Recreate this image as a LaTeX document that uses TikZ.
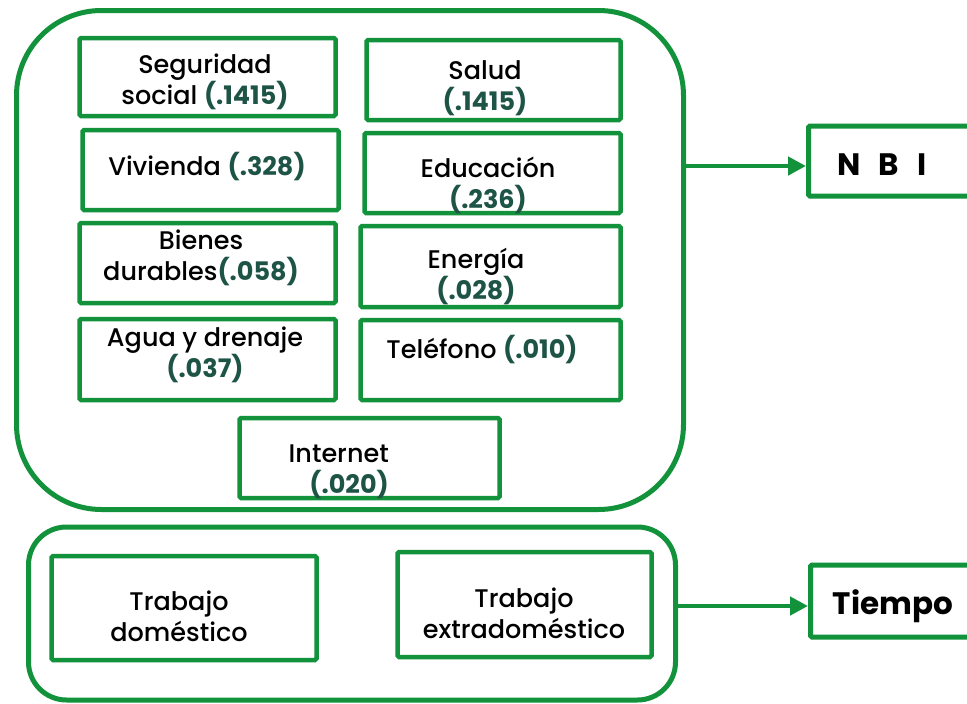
\documentclass[tikz,border=0pt]{standalone}
\usepackage{fontspec}
\setmainfont{Poppins}[UprightFont={* Medium},BoldFont={* Bold}]
\usetikzlibrary{arrows.meta}
\definecolor{grn}{HTML}{13923C}
\definecolor{numc}{HTML}{1D5446}
\newcommand{\wt}[1]{{\bfseries\color{numc}#1}}
\begin{document}
\begin{tikzpicture}[x=1pt,y=-1pt,
  container/.style={draw=grn,line width=5pt,rectangle,inner sep=0pt},
  itembox/.style={draw=grn,line width=4.5pt,rectangle,rounded corners=1.5pt,inner sep=0pt},
  outbox/.style={draw=grn,line width=5pt,rectangle,rounded corners=1.5pt,inner sep=0pt,anchor=west,minimum width=200pt},
  txt/.style={align=center,inner sep=0pt,font=\fontsize{25.5}{31}\selectfont},
  big/.style={inner sep=0pt,font=\fontsize{31}{36}\selectfont\bfseries},
  arr/.style={draw=grn,line width=4.5pt,-{Triangle[length=18pt,width=18pt]}}]
\useasboundingbox (0,0) rectangle (967,704);
\clip (0,0) rectangle (967,704);
\fill[white] (0,0) rectangle (967,704);
% containers
\node[container,rounded corners=85pt,minimum width=667pt,minimum height=499pt] (nbigrp) at (350,260) {};
\node[container,rounded corners=38pt,minimum width=647pt,minimum height=173pt] (tgrp) at (352,613.5) {};
% item boxes
\node[itembox,minimum width=256pt,minimum height=78pt] (seg) at (207.5,77) {};
\node[itembox,minimum width=256pt,minimum height=80pt] (viv) at (210.5,170) {};
\node[itembox,minimum width=254pt,minimum height=80pt] (sal) at (493.5,80) {};
\node[itembox,minimum width=256pt,minimum height=80pt] (edu) at (492.5,173) {};
\node[itembox,minimum width=256pt,minimum height=80pt] (bie) at (207.5,263) {};
\node[itembox,minimum width=260pt,minimum height=81pt] (ene) at (490.5,266.5) {};
\node[itembox,minimum width=256pt,minimum height=81pt] (agu) at (207.5,359.5) {};
\node[itembox,minimum width=260pt,minimum height=80pt] (tel) at (490.5,360) {};
\node[itembox,minimum width=260pt,minimum height=80pt] (int) at (369.5,458) {};
\node[itembox,minimum width=265pt,minimum height=104pt] (tdom) at (184,608) {};
\node[itembox,minimum width=254pt,minimum height=105pt] (text) at (524.5,604.5) {};
% texts
\node[txt] (tseg) at (205,82) {Seguridad\\social \wt{(.1415)}};
\node[txt] (tsal) at (485,88) {Salud\\\wt{(.1415)}};
\node[txt] (tviv) at (207,167) {Vivienda \wt{(.328)}};
\node[txt] (tedu) at (488,185) {Educación\\\wt{(.236)}};
\node[txt] (tbie) at (201,258) {Bienes\\durables\wt{(.058)}};
\node[txt] (tene) at (476,277) {Energía\\\wt{(.028)}};
\node[txt] (tagu) at (205,355) {Agua y drenaje\\\wt{(.037)}};
\node[txt] (ttel) at (482,350) {Teléfono \wt{(.010)}};
\node[txt,align=right,anchor=east] (tint) at (389,472) {Internet\\\wt{(.020)}};
\node[txt] (ttdom) at (179,616) {Trabajo\\doméstico};
\node[txt] (ttext) at (524,613) {Trabajo\\extradoméstico};
% outputs
\node[outbox,minimum height=70pt] (nbi) at (806,161) {};
\node[outbox,minimum height=72pt] (tiem) at (808,601) {};
\node[big] (tnbi) at (882,165) {N\hspace{18pt}B\hspace{18pt}I};
\node[big] (ttiem) at (893,606) {Tiempo};
% arrows
\draw[arr] ([yshift=-5pt]nbi.west -| nbigrp.east) -- ([yshift=-5pt]nbi.west);
\draw[arr] ([yshift=-5pt]tiem.west -| tgrp.east) -- ([yshift=-5pt]tiem.west);
\end{tikzpicture}
\end{document}
